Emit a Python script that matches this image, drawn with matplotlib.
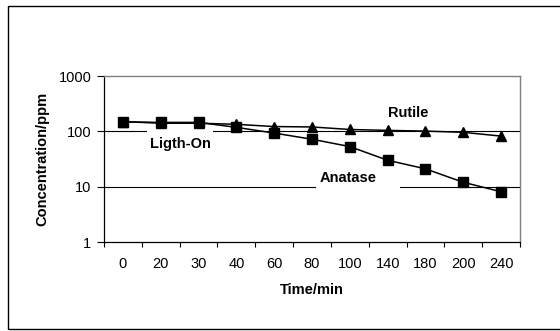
import matplotlib
matplotlib.use("Agg")
import matplotlib.pyplot as plt
from matplotlib.patches import Rectangle
import numpy as np

plt.rcParams['font.family'] = ['Liberation Sans', 'DejaVu Sans']

categories = ["0", "20", "30", "40", "60", "80", "100", "140", "180", "200", "240"]
anatase = [148, 145, 145, 118, 93, 72, 53, 30, 21, 12, 8.1]
rutile = [150, 140, 140, 134, 122, 120, 108, 104, 101, 96, 82]
yticks = [1, 10, 100, 1000]
ytick_labels = ["1", "10", "100", "1000"]

fig = plt.figure(figsize=(5.6, 3.31), dpi=100)
# outer chart border
fig.patches.append(Rectangle((8/560, 2/331), 1.2, (323)/331, transform=fig.transFigure,
                             fill=False, edgecolor='black', linewidth=1.0, zorder=0))
ax = fig.add_axes([104/560, 89/331, 416/560, 166/331])

x = np.arange(len(categories))
ax.set_yscale('log')
ax.set_ylim(1, 1000)
ax.set_xlim(-0.5, len(categories) - 0.5)

for g in [10, 100]:
    ax.axhline(g, color='black', linewidth=0.8, zorder=0.5)

# white label boxes covering gridlines
ax.add_patch(Rectangle((0.103, 0.53), 0.159, 0.157, transform=ax.transAxes,
                       facecolor='white', edgecolor='none', zorder=1))
ax.add_patch(Rectangle((0.510, 0.313), 0.202, 0.133, transform=ax.transAxes,
                       facecolor='white', edgecolor='none', zorder=1))

ax.plot(x, anatase, color='black', linewidth=1.1, marker='s', markersize=6.5, zorder=3)
ax.plot(x, rutile, color='black', linewidth=1.1, marker='^', markersize=6.5, zorder=3)

fs = 10.5
ax.text(0.183, 0.59, "Ligth-On", transform=ax.transAxes, ha='center', va='center',
        fontsize=fs, fontweight='bold', zorder=4)
ax.text(0.731, 0.777, "Rutile", transform=ax.transAxes, ha='center', va='center',
        fontsize=fs, fontweight='bold', zorder=4)
ax.text(0.587, 0.386, "Anatase", transform=ax.transAxes, ha='center', va='center',
        fontsize=fs, fontweight='bold', zorder=4)

ax.set_yticks(yticks)
ax.set_yticklabels(ytick_labels)
ax.yaxis.set_minor_locator(matplotlib.ticker.NullLocator())
ax.set_xticks(np.arange(-0.5, len(categories), 1.0))
ax.set_xticklabels([])
ax.set_xticks(x, minor=True)
ax.set_xticklabels(categories, minor=True)
ax.tick_params(axis='x', which='minor', length=0, pad=10.5, labelsize=fs)
ax.tick_params(axis='x', which='major', length=3.5, width=0.8, direction='out')
ax.tick_params(axis='y', which='major', length=5, width=0.8, direction='out', labelsize=fs, pad=4)

for s in ['top', 'right']:
    ax.spines[s].set_color('#808080')
    ax.spines[s].set_linewidth(1.0)
for s in ['left', 'bottom']:
    ax.spines[s].set_color('black')
    ax.spines[s].set_linewidth(0.9)

ax.set_xlabel("Time/min", fontsize=fs, fontweight='bold', labelpad=9)
ax.set_ylabel("Concentration/ppm", fontsize=fs, fontweight='bold', labelpad=7)

fig.savefig("out.png", dpi=100)
